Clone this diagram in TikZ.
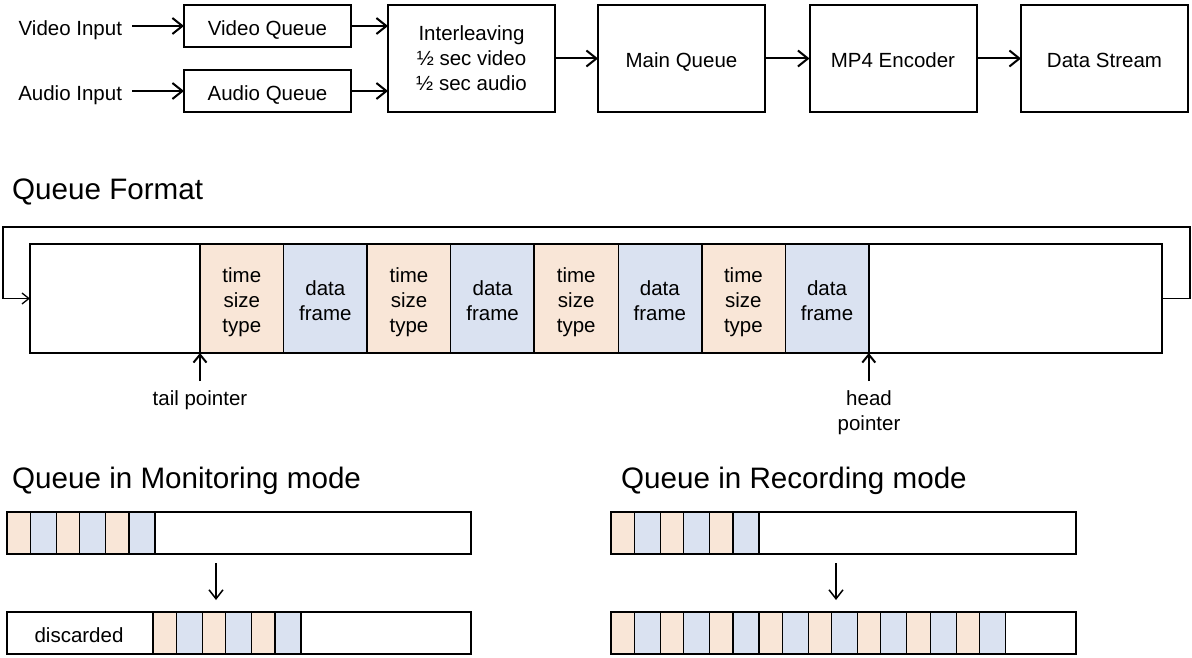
\documentclass[tikz,border=0pt]{standalone}
\usepackage{fontspec}
\setmainfont{Liberation Sans}
\usetikzlibrary{arrows.meta,positioning}

\definecolor{hdrpeach}{HTML}{F9E6D7}
\definecolor{datblue}{HTML}{DAE2F1}

\begin{document}
\begin{tikzpicture}[
  x=1pt,
  y=-1pt,
  txt/.style={font=\fontsize{20.5}{25}\selectfont},
  ttl/.style={font=\fontsize{29.6}{34}\selectfont, anchor=west, inner sep=0pt},
  blk/.style={txt, draw, line width=2pt, minimum width=167pt, inner sep=0pt, outer sep=0pt, align=center},
  oneline/.style={text height=19pt, text depth=0pt},
  inlbl/.style={txt, oneline, inner sep=0pt, outer sep=10pt, anchor=east},
  flow/.style={line width=2pt, -{Straight Barb[length=10pt,width=16pt]}},
  qcell/.style={draw, line width=1pt, minimum width=83.6pt, minimum height=109pt, inner sep=0pt, outer sep=0pt},
  frame/.style={draw, line width=2pt, inner sep=0pt, outer sep=0pt},
  mini/.style={draw, line width=1.2pt, minimum height=42pt, inner sep=0pt, outer sep=0pt},
  wrap/.style={line width=1.3pt, -{Straight Barb[length=7pt,width=11pt]}},
  ptr/.style={line width=2pt, -{Straight Barb[length=8pt,width=13pt]}},
  drop/.style={line width=1.5pt, -{Straight Barb[length=9pt,width=14pt]}}
]
\useasboundingbox (0,0) rectangle (1192,658);

%--------------------
% Cadena de bloques
%--------------------
\node[blk, oneline, minimum height=42pt] (vq) at (267.5,26) {Video Queue};
\node[blk, oneline, minimum height=42pt] (aq) at (267.5,91) {Audio Queue};
\node[blk, minimum height=107pt] (il) at (471.5,58.5) {Interleaving\\½ sec video\\½ sec audio};
\node[blk, oneline, minimum height=107pt] (mq) at (681.5,58.5) {Main Queue};
\node[blk, oneline, minimum height=107pt] (enc) at (893,58.5) {MP4 Encoder};
\node[blk, oneline, minimum height=107pt] (ds) at (1104.5,58.5) {Data Stream};
\node[inlbl] (vin) at (132,26) {Video Input};
\node[inlbl] (ain) at (132,91) {Audio Input};

\draw[flow] (vin.east) -- (vq.west);
\draw[flow] (ain.east) -- (aq.west);
\draw[flow] (vq.east) -- (vq.east -| il.west);
\draw[flow] (aq.east) -- (aq.east -| il.west);
\draw[flow] (il) -- (mq);
\draw[flow] (mq) -- (enc);
\draw[flow] (enc) -- (ds);

%--------------------
% Formato de la cola
%--------------------
\node[ttl] (qfmt) at (12,192) {Queue Format};

\foreach \i in {1,...,4} {
  \node[qcell, fill=hdrpeach, anchor=north west] (hdr\i) at ({200+(\i-1)*167.2},244) {};
  \node[qcell, fill=datblue, right=0pt of hdr\i] (dat\i) {};
  \node[txt, align=center] (hdrtxt\i) at ([yshift=-4pt]hdr\i.center) {time\\size\\type};
  \node[txt, align=center] (dattxt\i) at ([yshift=-2pt]dat\i.center) {data\\frame};
  \draw[line width=2pt] (hdr\i.north west) -- (hdr\i.south west);
}
\draw[line width=2pt] (dat4.north east) -- (dat4.south east);
\node[frame, anchor=north west, minimum width=1132pt, minimum height=109pt] (qbuf) at (30,244) {};

% vuelta circular
\coordinate (loopR) at (1190,227);
\coordinate (loopL) at (3,227);
\draw[wrap] (qbuf.east) -| (loopR) -- (loopL) |- (qbuf.west);

% punteros
\coordinate (tailfoot) at (200,381);
\coordinate (headfoot) at (868.8,381);
\draw[ptr] (tailfoot) -- (hdr1.south west);
\draw[ptr] (headfoot) -- (dat4.south east);
\node[txt] (taillbl) at (200,400) {tail pointer};
\node[txt, align=center] (headlbl) at (869,413) {head\\pointer};

%--------------------
% Modo monitorizacion
%--------------------
\node[ttl] (monttl) at (12,481) {Queue in Monitoring mode};

\foreach \i in {1,...,3} {
  \node[mini, fill=hdrpeach, minimum width=23.3pt, anchor=north west] (mah\i) at ({7+(\i-1)*49.3},512) {};
  \node[mini, fill=datblue, minimum width=26pt, right=0pt of mah\i] (mad\i) {};
}
\node[frame, anchor=north west, minimum width=464pt, minimum height=42pt] (mon1) at (7,512) {};

\foreach \i in {1,...,3} {
  \node[mini, fill=hdrpeach, minimum width=23.3pt, anchor=north west] (mbh\i) at ({153+(\i-1)*49.3},612) {};
  \node[mini, fill=datblue, minimum width=26pt, right=0pt of mbh\i] (mbd\i) {};
}
\node[frame, anchor=north west, minimum width=464pt, minimum height=42pt] (mon2) at (7,612) {};
\node[txt, oneline] (disc) at (79,633) {discarded};

\draw[drop] ([xshift=-23pt,yshift=-9pt]mon1.south) -- ([xshift=-23pt,yshift=12pt]mon2.north);

%--------------------
% Modo grabacion
%--------------------
\node[ttl] (recttl) at (621,481) {Queue in Recording mode};

\foreach \i in {1,...,3} {
  \node[mini, fill=hdrpeach, minimum width=23.3pt, anchor=north west] (rah\i) at ({611+(\i-1)*49.3},512) {};
  \node[mini, fill=datblue, minimum width=26pt, right=0pt of rah\i] (rad\i) {};
}
\node[frame, anchor=north west, minimum width=465pt, minimum height=42pt] (rec1) at (611,512) {};

\foreach \i in {1,...,8} {
  \node[mini, fill=hdrpeach, minimum width=23.3pt, anchor=north west] (rbh\i) at ({611+(\i-1)*49.3},612) {};
  \node[mini, fill=datblue, minimum width=26pt, right=0pt of rbh\i] (rbd\i) {};
}
\node[frame, anchor=north west, minimum width=465pt, minimum height=42pt] (rec2) at (611,612) {};

\draw[drop] ([xshift=-7.5pt,yshift=-9pt]rec1.south) -- ([xshift=-7.5pt,yshift=12pt]rec2.north);

\end{tikzpicture}
\end{document}
